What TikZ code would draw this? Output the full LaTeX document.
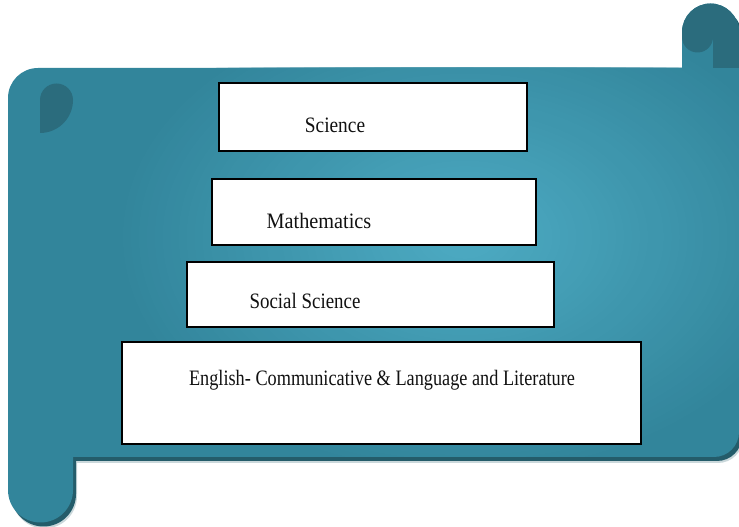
\documentclass[tikz,border=0pt]{standalone}
\usepackage{graphicx}
\usepackage{fontspec}
\setmainfont{Liberation Serif}
\definecolor{scrlight}{HTML}{4BA8C0}
\definecolor{scrdark}{HTML}{32859B}
\definecolor{scrcurl}{HTML}{2B6C7D}
\definecolor{scrshadow}{HTML}{245C6A}
\definecolor{subjink}{HTML}{111111}
\newcommand{\subjtext}[2][0.88]{\scalebox{#1}[1]{\fontsize{22}{26}\selectfont #2}}
\def\scrollbody{(8,429) arc[start angle=180,end angle=90,radius=30] -- (682,459) -- (682,495) arc[start angle=180,end angle=0,radius=28.5] -- (739,95) arc[start angle=0,end angle=-90,radius=25] -- (73,70) -- (73,37) arc[start angle=0,end angle=-180,radius=32.5] -- cycle}
\tikzset{
  subjectbox/.style={draw=black, line width=1.6pt, fill=white, inner sep=0pt},
  subjectlabel/.style={text=subjink, inner sep=0pt, anchor=center},
  curlpart/.style={fill=scrcurl},
}
\begin{document}
\begin{tikzpicture}[x=1pt,y=1pt]
\useasboundingbox (0,0) rectangle (739,527);
% shadow
\fill[scrshadow!40, opacity=0.6, shift={(4,-6)}] \scrollbody;
\fill[scrshadow, shift={(3,-4)}] \scrollbody;
% body with stepped radial glow
\fill[scrdark] \scrollbody;
\begin{scope}
  \clip \scrollbody;
  \foreach \i in {0,...,40}{
    \pgfmathsetmacro\glowf{1-\i/44}
    \pgfmathsetmacro\glowp{100*\i/40}
    \fill[scrlight!\glowp!scrdark] (465,290) ellipse [x radius={350*\glowf}, y radius={240*\glowf}];
  }
\end{scope}
% curls
\fill[curlpart] (40,394) -- (40,427) arc[start angle=180,end angle=0,radius=16.5] arc[start angle=0,end angle=-90,radius=33] -- cycle;
\fill[curlpart] (682,490) -- (682,495) arc[start angle=180,end angle=0,radius=28.5] -- (739,459) -- (713,459) -- (713,490) arc[start angle=0,end angle=-180,radius=15.5] -- cycle;
% boxes
\node[subjectbox, minimum width=308pt, minimum height=68pt] (sci) at (373,410) {};
\node[subjectbox, minimum width=324pt, minimum height=66pt] (math) at (374,315) {};
\node[subjectbox, minimum width=367pt, minimum height=65pt] (soc) at (370.5,232.5) {};
\node[subjectbox, minimum width=519pt, minimum height=102pt] (eng) at (381.5,134) {};
% labels
\node[subjectlabel] (scit) at (335,402) {\subjtext{Science}};
\node[subjectlabel] (matht) at (319,306) {\subjtext[0.92]{Mathematics}};
\node[subjectlabel] (soct) at (305,226) {\subjtext[0.86]{Social Science}};
\node[subjectlabel] (engt) at (382,147) {\subjtext[0.83]{English- Communicative \& Language and Literature}};
\end{tikzpicture}
\end{document}
